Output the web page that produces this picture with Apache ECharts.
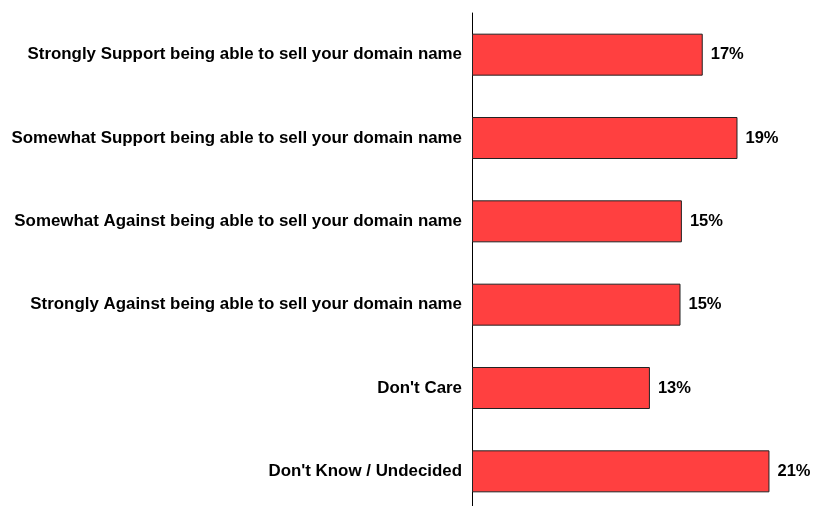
<!DOCTYPE html>
<html>
<head>
<meta charset="utf-8">
<script src="https://cdn.jsdelivr.net/npm/echarts@6/dist/echarts.min.js"></script>
<style>html,body{margin:0;padding:0;background:#fff}#c{width:814px;height:506px}</style>
</head>
<body>
<div id="c"></div>
<script>
var categories = [
  "Strongly Support being able to sell your domain name",
  "Somewhat Support being able to sell your domain name",
  "Somewhat Against being able to sell your domain name",
  "Strongly Against being able to sell your domain name",
  "Don't Care",
  "Don't Know / Undecided"
];
var values = [16.6, 19.1, 15.1, 15.0, 12.8, 21.4];

var chart = echarts.init(document.getElementById('c'), null, {renderer: 'canvas'});
chart.setOption({
  animation: false,
  backgroundColor: '#ffffff',
  grid: {left: 472, top: 13, width: 333.6, height: 500, containLabel: false, outerBoundsMode: 'none'},
  xAxis: {
    type: 'value', min: 0, max: 24,
    show: false
  },
  yAxis: {
    type: 'category',
    data: categories,
    inverse: true,
    axisLine: {show: true, lineStyle: {color: '#000', width: 1}},
    axisTick: {show: false},
    axisLabel: {
      margin: 10,
      color: '#000',
      fontFamily: 'Liberation Sans, Arial, sans-serif',
      fontWeight: 'bold',
      fontSize: 16.9
    }
  },
  series: [{
    type: 'bar',
    data: values,
    barWidth: 42,
    itemStyle: {color: '#FF4040', borderColor: '#222', borderWidth: 1},
    label: {
      show: true,
      position: 'right',
      distance: 8,
      color: '#000',
      fontFamily: 'Liberation Sans, Arial, sans-serif',
      fontWeight: 'bold',
      fontSize: 16.5,
      formatter: function (p) { return Math.round(p.value) + '%'; }
    }
  }]
});
</script>
</body>
</html>
